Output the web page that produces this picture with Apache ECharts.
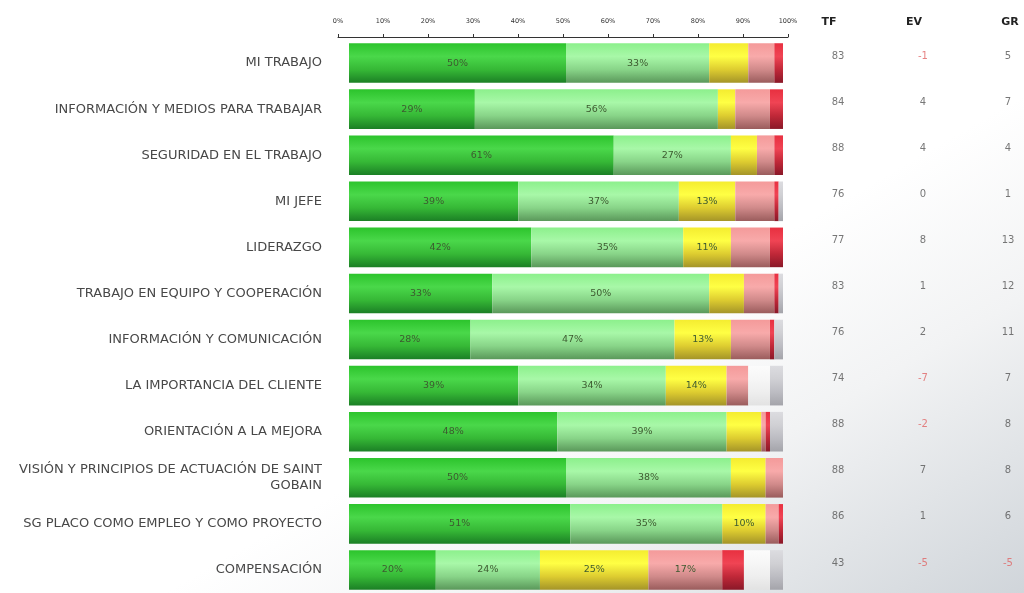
<!DOCTYPE html>
<html>
<head>
<meta charset="utf-8">
<script src="https://cdn.jsdelivr.net/npm/echarts@6/dist/echarts.min.js"></script>
<style>
  html, body { margin: 0; padding: 0; background: #fff; }
  #chart {
    width: 1024px; height: 593px;
    background: linear-gradient(to bottom right, #ffffff 0%, #ffffff 58%, #f2f3f4 75%, #d0d5da 100%);
  }
</style>
</head>
<body>
<div id="chart"></div>
<script>
// categorias (de arriba a abajo)
const categories = [
  'MI TRABAJO',
  'INFORMACIÓN Y MEDIOS PARA TRABAJAR',
  'SEGURIDAD EN EL TRABAJO',
  'MI JEFE',
  'LIDERAZGO',
  'TRABAJO EN EQUIPO Y COOPERACIÓN',
  'INFORMACIÓN Y COMUNICACIÓN',
  'LA IMPORTANCIA DEL CLIENTE',
  'ORIENTACIÓN A LA MEJORA',
  'VISIÓN Y PRINCIPIOS DE ACTUACIÓN DE SAINT\nGOBAIN',
  'SG PLACO COMO EMPLEO Y COMO PROYECTO',
  'COMPENSACIÓN'
];

// % de respuestas por nivel
const muyFavorable    = [50, 29, 61, 39, 42, 33, 28, 39, 48, 50, 51, 20];
const favorable       = [33, 56, 27, 37, 35, 50, 47, 34, 39, 38, 35, 24];
const neutral         = [9, 4, 6, 13, 11, 8, 13, 14, 8, 8, 10, 25];
const desfavorable    = [6, 8, 4, 9, 9, 7, 9, 5, 1, 4, 3, 17];
const muyDesfavorable = [2, 3, 2, 1, 3, 1, 1, 0, 1, 0, 1, 5];
const nsnc            = [0, 0, 0, 0, 0, 0, 0, 5, 0, 0, 0, 6];
const sinRespuesta    = [0, 0, 0, 1, 0, 1, 2, 3, 3, 0, 0, 3];

// tabla de la derecha
const tableCols = ['TF', 'EV', 'GR'];
const tf = [83, 84, 88, 76, 77, 83, 76, 74, 88, 88, 86, 43];
const ev = [-1, 4, 4, 0, 8, 1, 2, -7, -2, 7, 1, -5];
const gr = [5, 7, 4, 1, 13, 12, 11, 7, 8, 8, 6, -5];

const tickLabels = ['0%', '10%', '20%', '30%', '40%', '50%', '60%', '70%', '80%', '90%', '100%'];

function grad(stops) {
  return new echarts.graphic.LinearGradient(0, 0, 0, 1,
    stops.map((c, i) => ({ offset: i / (stops.length - 1), color: c })));
}

const levels = [
  { name: 'Muy favorable', data: muyFavorable, color: grad(['#2cc42c', '#4ad84a', '#36b836', '#1b7f25']) },
  { name: 'Favorable', data: favorable, color: grad(['#8cf08c', '#a8f8a8', '#88d488', '#5a985a']) },
  { name: 'Neutral', data: neutral, color: grad(['#f4ec30', '#ffff44', '#ddcc30', '#a49428']) },
  { name: 'Desfavorable', data: desfavorable, color: grad(['#f49a9a', '#f8aaaa', '#d08a8a', '#9a5c5c']) },
  { name: 'Muy desfavorable', data: muyDesfavorable, color: grad(['#e83040', '#f04454', '#c02838', '#8a1828']) },
  { name: 'NS/NC', data: nsnc, color: grad(['#fcfcfc', '#f6f6f6', '#eeeeee', '#e2e2e2']) },
  { name: 'Sin respuesta', data: sinRespuesta, color: grad(['#dcdce0', '#d0d0d4', '#bcbcc2', '#a4a4aa']) }
];

const chart = echarts.init(document.getElementById('chart'));

const barSeries = levels.map(l => ({
  name: l.name,
  type: 'bar',
  stack: 'total',
  xAxisIndex: 0,
  yAxisIndex: 0,
  barWidth: '86%',
  data: l.data,
  itemStyle: { color: l.color },
  label: {
    show: true,
    position: 'inside',
    fontSize: 9.5,
    fontFamily: 'DejaVu Sans',
    color: '#3d5a30',
    formatter: p => (p.value >= 10 ? p.value + '%' : '')
  }
}));

function tableSeries(values, col) {
  return {
    type: 'scatter',
    xAxisIndex: 2,
    yAxisIndex: 2,
    symbolSize: 1,
    itemStyle: { color: 'rgba(0,0,0,0)' },
    silent: true,
    data: values.map((v, i) => ({
      value: [col, i, v],
      label: { color: v < 0 ? '#e06464' : '#555' }
    })),
    label: {
      show: true,
      position: 'inside',
      offset: [0, -7],
      fontSize: 10,
      fontFamily: 'DejaVu Sans',
      formatter: p => String(p.value[2])
    }
  };
}

const option = {
  animation: false,
  backgroundColor: 'transparent',
  grid: [
    { left: 349, right: 241, top: 40, height: 560 },
    { left: 338, right: 236, top: 36, height: 1 },
    { left: 838, right: 16, top: 40, height: 560 }
  ],
  xAxis: [
    { gridIndex: 0, type: 'value', min: 0, max: 100, show: false },
    {
      gridIndex: 1, type: 'value', position: 'top', min: 0, max: 100, interval: 10,
      axisLine: { show: true, lineStyle: { color: '#333', width: 1 } },
      axisTick: { show: true, length: 3, lineStyle: { color: '#333' } },
      splitLine: { show: false },
      axisLabel: {
        fontSize: 6.5, fontFamily: 'DejaVu Sans', color: '#333', margin: 11,
        formatter: v => tickLabels[Math.round(v / 10)]
      }
    },
    {
      gridIndex: 2, type: 'value', position: 'top', min: 0, max: 2, interval: 1,
      axisLine: { show: false }, axisTick: { show: false }, splitLine: { show: false },
      axisLabel: {
        margin: 12,
        formatter: v => (v < 2 ? '{s|' + tableCols[v] + '}' : '{h|' + tableCols[v] + '}'),
        rich: {
          s: { fontSize: 11, fontWeight: 'bold', fontFamily: 'DejaVu Sans', color: '#222', padding: [0, 18, 0, 0] },
          h: { fontSize: 11, fontWeight: 'bold', fontFamily: 'DejaVu Sans', color: '#222', padding: [0, 0, 0, 4] }
        }
      }
    }
  ],
  yAxis: [
    {
      gridIndex: 0, type: 'category', inverse: true, data: categories,
      axisLine: { show: false }, axisTick: { show: false },
      axisLabel: {
        fontSize: 13, fontFamily: 'DejaVu Sans', color: '#484848', margin: 27,
        align: 'right', lineHeight: 16, padding: [8, 0, 0, 0]
      }
    },
    { gridIndex: 1, type: 'value', show: false },
    { gridIndex: 2, type: 'category', inverse: true, data: categories, show: false }
  ],
  series: barSeries.concat([
    tableSeries(tf, 0),
    tableSeries(ev, 1),
    tableSeries(gr, 2)
  ])
};

chart.setOption(option);
</script>
</body>
</html>
